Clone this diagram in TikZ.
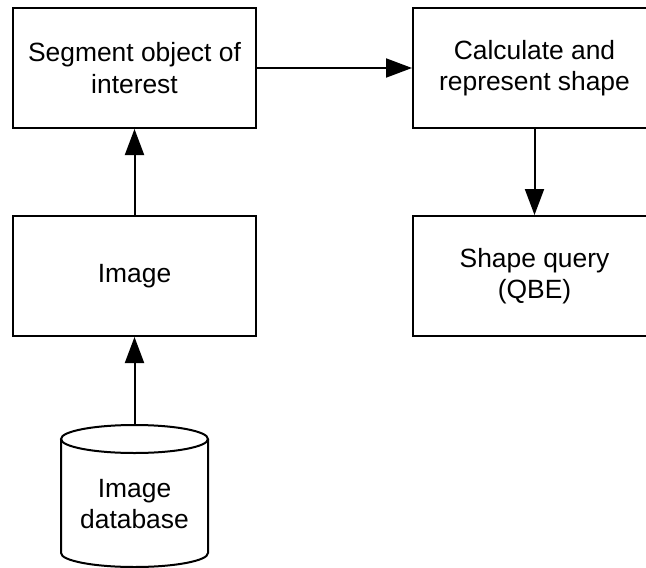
\documentclass[tikz,border=0pt]{standalone}
\usepackage{fontspec}
\setmainfont{Liberation Sans}
\usetikzlibrary{arrows.meta}
\begin{document}
\begin{tikzpicture}[x=1pt,y=-1pt,
  boxnode/.style={draw, line width=2pt, minimum width=243pt, minimum height=120pt, inner sep=0pt, align=center, font=\fontsize{26.4}{31.5}\selectfont},
  txt/.style={align=center, inner sep=0pt, font=\fontsize{26.4}{31.5}\selectfont},
  arr/.style={line width=2pt, -{Triangle[length=26pt,width=19pt]}}]
\clip (0,0) rectangle (646,568);
\node[boxnode] (seg) at (134.5,68) {Segment object of\\interest};
\node[boxnode] (calc) at (534.5,68) {Calculate and\\represent shape};
\node[boxnode] (img) at (134.5,276) {Image};
\node[boxnode] (query) at (534.5,276) {Shape query\\(QBE)};
% cylinder
\draw[line width=2pt] (61,439) -- (61,553) arc[start angle=180, end angle=360, x radius=73.5pt, y radius=14pt] -- (208,439);
\draw[line width=2pt] (134.5,439) ellipse[x radius=73.5pt, y radius=14pt];
\coordinate (dbtop) at (134.5,425);
\node[txt] (db) at (134.5,504) {Image\\database};
\draw[arr] (seg.east) -- (calc.west);
\draw[arr] (img.north) -- (seg.south);
\draw[arr] (calc.south) -- (query.north);
\draw[arr] (dbtop) -- (img.south);
\end{tikzpicture}
\end{document}
